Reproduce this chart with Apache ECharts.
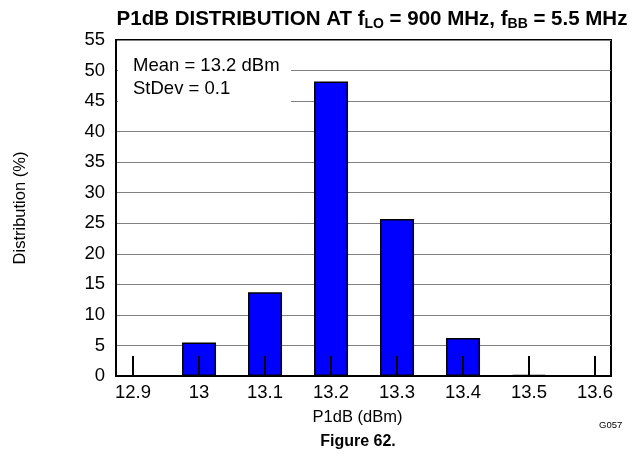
<!DOCTYPE html>
<html>
<head>
<meta charset="utf-8">
<script src="https://cdn.jsdelivr.net/npm/echarts@6/dist/echarts.min.js"></script>
<style>
html,body{margin:0;padding:0;background:#fff;}
#chart{width:636px;height:458px;}
</style>
</head>
<body>
<div id="chart"></div>
<script>
var categories = [12.9, 13.0, 13.1, 13.2, 13.3, 13.4, 13.5, 13.6];
var distribution = [0, 5.5, 13.7, 48.2, 25.7, 6.2, 0.2, 0];
var yTicks = [0, 5, 10, 15, 20, 25, 30, 35, 40, 45, 50, 55];

var FONT = '"Liberation Sans", Arial, sans-serif';
var chart = echarts.init(document.getElementById('chart'));
var seriesData = categories.map(function (c, i) { return [c, distribution[i]]; });

chart.setOption({
  animation: false,
  textStyle: { fontFamily: FONT },
  title: [{
    text: '{b|P1dB DISTRIBUTION AT f}{s|LO}{b| = 900 MHz, f}{s|BB}{b| = 5.5 MHz}',
    left: 367, top: 2, textAlign: 'center',
    textStyle: {
      rich: {
        b: { fontFamily: FONT, fontSize: 20.5, fontWeight: 'bold', color: '#000' },
        s: { fontFamily: FONT, fontSize: 14, fontWeight: 'bold', color: '#000', padding: [10, 0, 0, 0] }
      }
    }
  }, {
    text: 'Figure 62.', left: 353, top: 429, textAlign: 'center',
    textStyle: { fontFamily: FONT, fontSize: 16, fontWeight: 'bold', color: '#000' }
  }, {
    text: 'G057', left: 594, top: 415,
    textStyle: { fontFamily: FONT, fontSize: 9.5, fontWeight: 'normal', color: '#000' }
  }],
  grid: {
    left: 116, right: 25, top: 40, bottom: 82,
    show: true, borderColor: '#000', borderWidth: 2, backgroundColor: 'transparent'
  },
  xAxis: {
    type: 'value',
    min: 12.8742, max: 13.6242,
    splitNumber: 7,
    z: 10,
    name: 'P1dB (dBm)', nameLocation: 'middle', nameGap: 33,
    nameTextStyle: { fontFamily: FONT, fontSize: 16.5, color: '#000', padding: [0, 12, 0, 0] },
    axisLine: { show: true, lineStyle: { color: '#000', width: 2 } },
    axisTick: { show: true, inside: true, length: 20, lineStyle: { color: '#000', width: 2 } },
    axisLabel: {
      showMinLabel: false, showMaxLabel: false,
      fontFamily: FONT, fontSize: 18.5, color: '#000', margin: 7,
      formatter: function (v) { return String(Math.round(v * 10) / 10); }
    },
    splitLine: { show: false }
  },
  yAxis: {
    type: 'value', min: 0, max: 55, interval: 5,
    name: 'Distribution (%)', nameLocation: 'middle', nameGap: 87, nameRotate: 90,
    nameTextStyle: { fontFamily: FONT, fontSize: 16.5, color: '#000' },
    axisLine: { show: true, lineStyle: { color: '#000', width: 2 } },
    axisTick: { show: false },
    axisLabel: { fontFamily: FONT, fontSize: 18.5, color: '#000', margin: 11 },
    splitLine: { show: true, lineStyle: { color: '#808080', width: 1 } }
  },
  graphic: [{
    type: 'rect', left: 118, top: 52, z: 5,
    shape: { width: 173, height: 56 },
    style: { fill: '#fff' }
  }, {
    type: 'text', left: 133, top: 54, z: 6,
    style: { text: 'Mean = 13.2 dBm\nStDev = 0.1', fontFamily: FONT, fontSize: 18.5, lineHeight: 23, fill: '#000' }
  }],
  series: [{
    type: 'bar',
    data: seriesData,
    barWidth: 34,
    z: 2,
    itemStyle: { color: '#0000FF', borderColor: '#000', borderWidth: 1.5 }
  }]
});
</script>
</body>
</html>
